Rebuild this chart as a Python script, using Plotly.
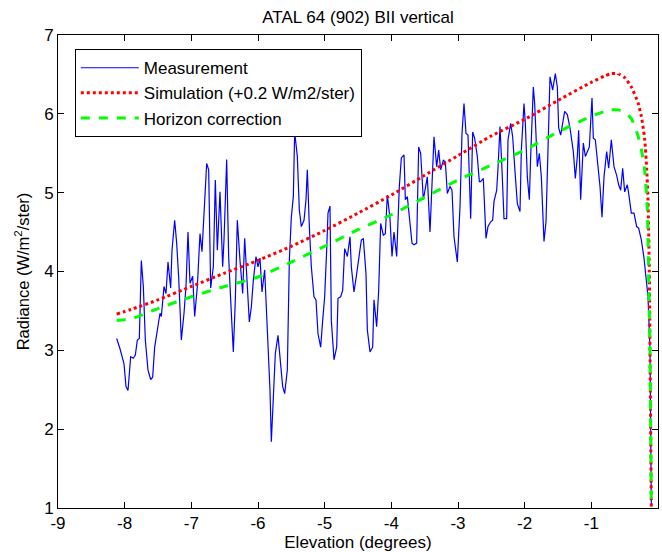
import plotly.graph_objects as go

# Measurement (blue solid)
meas_x = [-8.12, -8.07, -8.01, -7.98, -7.95, -7.91, -7.87, -7.84, -7.81, -7.78,
          -7.75, -7.72, -7.69, -7.65, -7.61, -7.58, -7.55, -7.51, -7.47, -7.45,
          -7.41, -7.38, -7.35, -7.31, -7.29, -7.25, -7.22, -7.19, -7.15, -7.11,
          -7.08, -7.05, -7.02, -6.98, -6.95, -6.91, -6.87, -6.84, -6.80, -6.77,
          -6.74, -6.71, -6.67, -6.64, -6.61, -6.57, -6.53, -6.51, -6.47, -6.44,
          -6.41, -6.37, -6.34, -6.31, -6.27, -6.23, -6.20, -6.17, -6.13, -6.10,
          -6.07, -6.03, -6.00, -5.97, -5.94, -5.90, -5.85, -5.82, -5.80, -5.77,
          -5.74, -5.70, -5.67, -5.63, -5.60, -5.56, -5.53, -5.50, -5.47, -5.45,
          -5.41, -5.38, -5.35, -5.31, -5.28, -5.26, -5.23, -5.20, -5.16, -5.13,
          -5.10, -5.06, -5.03, -5.00, -4.97, -4.95, -4.92, -4.90, -4.86, -4.82,
          -4.80, -4.76, -4.73, -4.70, -4.66, -4.62, -4.60, -4.56, -4.52, -4.48,
          -4.45, -4.42, -4.38, -4.36, -4.32, -4.28, -4.26, -4.22, -4.19, -4.16,
          -4.12, -4.09, -4.06, -4.02, -3.99, -3.96, -3.92, -3.88, -3.85, -3.81,
          -3.79, -3.76, -3.72, -3.69, -3.66, -3.62, -3.59, -3.56, -3.52, -3.49,
          -3.46, -3.42, -3.39, -3.36, -3.32, -3.29, -3.26, -3.22, -3.19, -3.16,
          -3.12, -3.09, -3.06, -3.01, -2.97, -2.94, -2.91, -2.88, -2.85, -2.81,
          -2.78, -2.75, -2.71, -2.68, -2.66, -2.62, -2.58, -2.55, -2.51, -2.48,
          -2.46, -2.42, -2.40, -2.37, -2.34, -2.31, -2.27, -2.25, -2.21, -2.18,
          -2.15, -2.11, -2.07, -2.05, -2.01, -1.99, -1.96, -1.93, -1.91, -1.87,
          -1.85, -1.81, -1.78, -1.75, -1.71, -1.68, -1.66, -1.62, -1.58, -1.54,
          -1.51, -1.49, -1.46, -1.43, -1.40, -1.36, -1.32, -1.27, -1.24, -1.21,
          -1.19, -1.16, -1.12, -1.09, -1.06, -1.03, -0.99, -0.97, -0.94, -0.91,
          -0.87, -0.84, -0.81, -0.77, -0.74, -0.70, -0.66, -0.62, -0.59, -0.56,
          -0.53, -0.50, -0.46, -0.44, -0.40, -0.36, -0.32, -0.29, -0.25, -0.21,
          -0.17, -0.15, -0.12, -0.11, -0.10]
meas_y = [3.15, 3.02, 2.83, 2.54, 2.49, 2.92, 2.90, 2.94, 3.13, 3.15,
          4.14, 3.81, 3.13, 2.75, 2.63, 2.66, 3.04, 3.26, 3.47, 3.43,
          3.81, 3.72, 4.12, 3.79, 4.27, 4.65, 4.36, 3.93, 3.13, 3.47,
          3.81, 4.50, 3.85, 3.94, 3.43, 3.81, 4.48, 4.25, 4.95, 5.37,
          5.29, 3.79, 4.06, 5.16, 4.27, 5.01, 4.06, 4.40, 5.42, 4.19,
          3.64, 2.98, 3.64, 4.65, 4.14, 3.72, 4.42, 3.89, 3.36, 3.55,
          3.89, 4.19, 4.06, 4.17, 3.74, 4.02, 3.13, 2.49, 1.84, 2.45,
          2.96, 3.19, 2.90, 2.54, 2.45, 2.75, 4.14, 4.69, 4.95, 5.77,
          5.46, 4.78, 4.57, 4.65, 4.91, 5.29, 4.57, 4.06, 3.68, 3.64,
          3.21, 3.04, 3.38, 3.68, 4.27, 4.74, 4.83, 3.38, 2.88, 3.04,
          3.66, 3.68, 3.76, 4.29, 4.19, 4.44, 4.06, 3.74, 3.97, 4.23,
          4.40, 4.42, 3.97, 3.26, 2.98, 3.04, 3.64, 3.30, 3.76, 4.61,
          4.46, 4.48, 4.97, 4.67, 4.19, 4.50, 4.19, 5.08, 5.44, 5.48,
          4.91, 4.95, 4.65, 4.36, 4.34, 4.36, 5.58, 5.50, 4.91, 5.08,
          5.20, 4.50, 5.18, 5.71, 5.33, 5.54, 5.29, 5.41, 5.39, 4.99,
          5.08, 5.03, 4.44, 4.12, 4.82, 5.75, 6.13, 5.75, 5.73, 4.67,
          5.77, 5.69, 5.46, 5.14, 5.14, 5.18, 4.42, 4.57, 4.63, 4.65,
          4.89, 5.03, 5.31, 5.84, 5.29, 4.67, 4.67, 5.67, 5.88, 5.71,
          5.33, 4.86, 4.76, 5.54, 6.13, 5.88, 5.20, 4.91, 5.46, 6.34,
          6.13, 5.33, 5.50, 5.20, 4.38, 4.63, 5.24, 6.47, 6.30, 6.51,
          6.34, 5.82, 5.73, 5.88, 6.03, 5.99, 5.82, 5.52, 5.18, 5.46,
          5.79, 4.91, 5.63, 5.46, 5.52, 5.58, 6.20, 5.69, 5.67, 5.41,
          5.08, 4.69, 5.20, 5.52, 5.31, 5.67, 5.33, 5.22, 5.10, 5.03,
          5.31, 5.01, 5.10, 4.99, 4.74, 4.74, 4.57, 4.55, 4.40, 4.17,
          3.85, 3.68, 3.00, 2.16, 1.02]

# Simulation (+0.2 W/m2/ster) (red dotted)
sim_x = [-8.12, -7.9, -7.5, -7.0, -6.5, -6.0, -5.5, -5.0, -4.5, -4.0, -3.5,
         -3.0, -2.5, -2.0, -1.5, -1.0, -0.8, -0.7, -0.6, -0.5, -0.4, -0.3,
         -0.25, -0.2, -0.17, -0.15, -0.13, -0.12, -0.11, -0.10]
sim_y = [3.46, 3.52, 3.64, 3.81, 3.98, 4.14, 4.32, 4.52, 4.74, 4.97, 5.22,
         5.47, 5.72, 5.93, 6.17, 6.40, 6.48, 6.51, 6.51, 6.46, 6.34, 6.14,
         5.97, 5.68, 5.30, 4.90, 4.00, 3.00, 2.00, 1.00]

# Horizon correction (green dashed)
hor_x = [-8.12, -7.9, -7.5, -7.0, -6.5, -6.0, -5.5, -5.0, -4.5, -4.0, -3.5,
         -3.0, -2.5, -2.0, -1.5, -1.0, -0.8, -0.7, -0.6, -0.5, -0.4, -0.3,
         -0.25, -0.2, -0.16, -0.14, -0.12, -0.11, -0.10]
hor_y = [3.38, 3.40, 3.53, 3.68, 3.81, 3.93, 4.12, 4.32, 4.53, 4.72, 4.94,
         5.16, 5.35, 5.54, 5.77, 5.97, 6.03, 6.05, 6.05, 6.02, 5.94, 5.72,
         5.55, 5.29, 4.78, 3.93, 3.00, 2.00, 1.00]

x_ticks = [-9, -8, -7, -6, -5, -4, -3, -2, -1, 0]
y_ticks = [1, 2, 3, 4, 5, 6, 7]

FONT = "Liberation Sans, Arial, sans-serif"

fig = go.Figure()
fig.add_trace(go.Scatter(x=meas_x, y=meas_y, mode="lines", name="Measurement",
                         line=dict(color="#0000FF", width=1.2)))
fig.add_trace(go.Scatter(x=sim_x, y=sim_y, mode="lines",
                         name="Simulation (+0.2 W/m2/ster)",
                         line=dict(color="#FF0000", width=3, dash="dot", shape="spline", smoothing=0.6)))
fig.add_trace(go.Scatter(x=hor_x, y=hor_y, mode="lines", name="Horizon correction",
                         line=dict(color="#00FF00", width=3, dash="dash", shape="spline", smoothing=0.6)))

axis_common = dict(showline=True, linecolor="black", linewidth=1, mirror="ticks",
                   ticks="inside", ticklen=6, tickcolor="black", showgrid=False,
                   zeroline=False, tickfont=dict(family=FONT, size=17, color="black"))

fig.update_layout(
    width=662, height=552,
    margin=dict(l=58, r=4, t=35, b=44),
    paper_bgcolor="white", plot_bgcolor="white",
    title=dict(text="ATAL 64 (902) BII vertical", x=0.5, xref="paper", xanchor="center",
               y=0.969, yanchor="middle", font=dict(family=FONT, size=17, color="black")),
    xaxis=dict(range=[-9, 0], tickvals=x_ticks, ticktext=[str(v) for v in x_ticks],
               title=dict(text="Elevation (degrees)", standoff=2,
                          font=dict(family=FONT, size=17, color="black")),
               **axis_common),
    yaxis=dict(range=[1, 7], tickvals=y_ticks, ticktext=[str(v) for v in y_ticks],
               title=dict(text="Radiance (W/m<sup>2</sup>/ster)", standoff=10,
                          font=dict(family=FONT, size=16.5, color="black")),
               **axis_common),
    legend=dict(x=0.028, y=0.97, xanchor="left", yanchor="top",
                bgcolor="white", bordercolor="black", borderwidth=1,
                font=dict(family=FONT, size=17, color="black"),
                itemwidth=58, tracegroupgap=0),
    showlegend=True,
)

fig.write_html("out.html")
